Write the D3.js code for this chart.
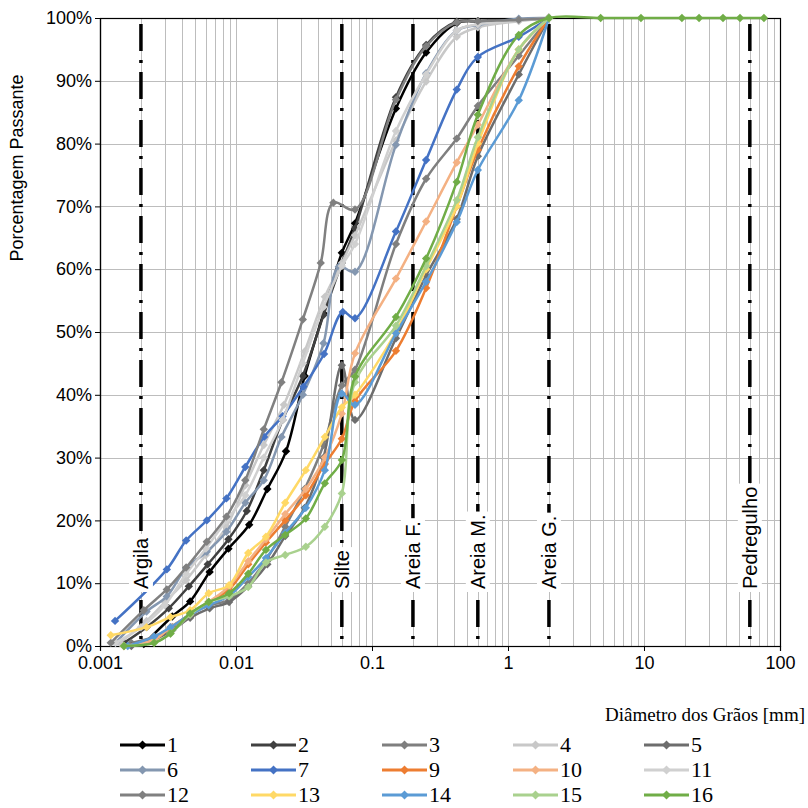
<!DOCTYPE html>
<html>
<head>
<meta charset="utf-8">
<script src="https://cdn.jsdelivr.net/npm/d3@7/dist/d3.min.js"></script>
<style>
    body { margin: 0; background: #ffffff; }
</style>
</head>
<body>
<div id="canvas"></div>
<script>
"use strict"

/* Curves: [diameter in mm, percent passing] */
let s1 = [[0.0021,0.3],[0.0034,4.7],[0.0046,7.1],[0.0064,11.8],[0.0088,15.5],[0.0125,19.3],[0.017,25],[0.0233,31],[0.032,43],[0.044,53],[0.06,62.6],[0.075,67.3],[0.15,85.6],[0.25,94.5],[0.42,99.2],[0.6,99.5],[1.2,99.7],[2,100]];
let s2 = [[0.0015,0.5],[0.0022,3],[0.0032,6],[0.0045,9.5],[0.0062,13],[0.0088,17],[0.012,21.5],[0.016,28],[0.022,36],[0.031,43],[0.044,52.7],[0.06,61],[0.075,66.5],[0.15,87.4],[0.25,95.7],[0.42,99.4],[0.6,99.5],[1.2,99.7],[2,100]];
let s3 = [[0.0017,0.5],[0.0025,1.5],[0.0034,3],[0.0046,5],[0.0064,6.5],[0.0089,7.3],[0.0123,10],[0.017,14],[0.023,19],[0.032,25],[0.044,32],[0.06,41.5],[0.075,44],[0.15,64],[0.25,74.4],[0.42,80.8],[0.6,86],[1.2,94],[2,100]];
let s4 = [[0.0014,0.5],[0.0022,4],[0.003,7],[0.0043,10.5],[0.006,14.5],[0.0085,19],[0.0117,25.6],[0.016,32],[0.0225,38.4],[0.032,46.9],[0.045,55.6],[0.06,61],[0.075,65.4],[0.15,80.5],[0.25,89.9],[0.42,97],[0.6,98.5],[1.2,99.5],[2,100]];
let s5 = [[0.0017,0],[0.0025,1],[0.0034,2.5],[0.0046,4.5],[0.0064,6],[0.0089,7],[0.0123,9.5],[0.017,13],[0.023,17.5],[0.032,22],[0.044,30],[0.06,44.7],[0.075,36],[0.15,49],[0.25,59],[0.42,68],[0.6,78],[1.2,91],[2,100]];
let s6 = [[0.0013,0.5],[0.0022,5.5],[0.0031,7.9],[0.0043,12.4],[0.0061,15],[0.0085,18.2],[0.0117,22.8],[0.016,26.4],[0.0216,33.3],[0.031,40],[0.044,48.2],[0.057,60.4],[0.075,59.6],[0.15,79.8],[0.25,91.2],[0.42,98],[0.6,98.9],[1.2,99.9],[2,100]];
let s7 = [[0.00129,4],[0.0031,12.2],[0.0043,16.8],[0.0061,20],[0.0085,23.5],[0.0117,28.5],[0.0161,33.3],[0.022,36.6],[0.0313,41.3],[0.0444,46.5],[0.061,53.2],[0.075,52.2],[0.15,66],[0.25,77.4],[0.42,88.6],[0.6,93.8],[1.2,97],[2,100]];
let s9 = [[0.0015,0],[0.0025,1],[0.0033,3],[0.0046,5],[0.0063,7],[0.0089,9],[0.0123,13],[0.0166,16.5],[0.023,20],[0.0326,24],[0.045,29],[0.06,33],[0.075,39],[0.15,47],[0.25,57],[0.42,70],[0.6,79],[1.2,92.3],[2,100]];
let s10 = [[0.0015,0],[0.0025,1],[0.0033,3],[0.0046,5],[0.0063,7],[0.0089,9.5],[0.0123,13.5],[0.0166,17],[0.023,21],[0.0326,25],[0.045,30],[0.06,37],[0.075,46.6],[0.15,58.5],[0.25,67.6],[0.42,77],[0.6,83],[1.2,95],[2,100]];
let s11 = [[0.0013,0.5],[0.002,3],[0.003,6.5],[0.0043,11.5],[0.006,15.5],[0.0085,20],[0.0117,24],[0.016,30],[0.022,36],[0.031,45],[0.044,54],[0.06,60.5],[0.075,64],[0.15,82],[0.25,91],[0.42,98],[0.6,99],[1.2,99.6],[2,100]];
let s12 = [[0.0012,0.5],[0.0021,5.7],[0.0031,9],[0.0043,12.5],[0.0061,16.6],[0.0085,20.6],[0.0117,26.4],[0.016,34.5],[0.0216,42],[0.031,52],[0.042,61],[0.052,70.6],[0.075,69.5],[0.15,87],[0.25,95.5],[0.42,99.3],[0.6,99.5],[1.2,99.7],[2,100]];
let s13 = [[0.0012,1.7],[0.0022,3],[0.0033,4.6],[0.0046,5.7],[0.0063,8.4],[0.0089,9.7],[0.0123,14.8],[0.0166,17.4],[0.023,22.8],[0.0326,28],[0.045,33.3],[0.06,38],[0.075,40],[0.15,50],[0.25,60],[0.42,70],[0.6,80],[1.2,95],[2,100]];
let s14 = [[0.0016,0],[0.0025,1.5],[0.0033,3],[0.0046,5],[0.0063,6.5],[0.0089,8],[0.0123,11],[0.0166,14],[0.023,18],[0.0326,22],[0.045,28],[0.06,40.2],[0.075,38.4],[0.15,49.8],[0.25,58],[0.42,67.5],[0.6,75.8],[1.2,86.9],[2,100]];
let s15 = [[0.0015,0],[0.0025,0.5],[0.0033,2],[0.0046,5],[0.0063,7],[0.0089,7.9],[0.0123,9.4],[0.0166,13.3],[0.023,14.5],[0.0326,15.8],[0.045,19],[0.06,24.3],[0.075,42],[0.15,51],[0.25,60.5],[0.42,71],[0.6,81],[1.2,95],[2,100]];
let s16 = [[0.0015,0],[0.0025,0.5],[0.0033,2],[0.0046,5.2],[0.0063,7],[0.0089,8.4],[0.0123,11.5],[0.0166,15.3],[0.023,17.7],[0.0326,20.3],[0.045,25.9],[0.06,29.6],[0.075,42.9],[0.15,52.4],[0.25,61.7],[0.42,73.9],[0.6,84.6],[1.2,97.3],[2,100],[4.8,100],[9.5,100],[19,100],[25.4,100],[38.1,100],[50.8,100],[76.2,100]];

let seriesNames = ["1","2","3","4","5","6","7","9","10","11","12","13","14","15","16"];
let seriesData = [s1,s2,s3,s4,s5,s6,s7,s9,s10,s11,s12,s13,s14,s15,s16];
let seriesColors = ["#000000","#404040","#7f7f7f","#c8c8c8","#6d6d6d","#8497b0","#4472c4",
                    "#ed7d31","#f4b183","#d0d0d0","#808080","#ffd966","#5b9bd5","#a9d18e","#70ad47"];

/* Soil class boundaries */
let classNames = ["Argila","Silte","Areia F.","Areia M.","Areia G.","Pedregulho"];
let classLimits = [0.002, 0.06, 0.2, 0.6, 2, 60];

let xTicks = [0.001, 0.01, 0.1, 1, 10, 100];
let yTicks = [0,10,20,30,40,50,60,70,80,90,100];

/* Layout */
let svgWidth = 808;
let svgHeight = 808;
let margin = { top: 18, right: 28, bottom: 162, left: 100 };
let plotW = svgWidth - margin.left - margin.right;
let plotH = svgHeight - margin.top - margin.bottom;
let sansFont = "'Liberation Sans', Arial, sans-serif";
let serifFont = "'Liberation Serif', 'Times New Roman', serif";

let svg = d3.select("#canvas").append("svg")
    .attr("width", svgWidth)
    .attr("height", svgHeight)
    .style("font-family", sansFont);

svg.append("rect").attr("width", svgWidth).attr("height", svgHeight).attr("fill", "#ffffff");

let xScale = d3.scaleLog().domain([0.001, 100]).range([margin.left, margin.left + plotW]);
let yScale = d3.scaleLinear().domain([0, 100]).range([margin.top + plotH, margin.top]);

// gridlines (all log ticks 1..9 per decade)
let gridG = svg.append("g");
gridG.selectAll("line.vgrid")
    .data(xScale.ticks())
    .join("line")
    .attr("class", "vgrid")
    .attr("x1", function(d) { return Math.round(xScale(d)) + 0.5; })
    .attr("x2", function(d) { return Math.round(xScale(d)) + 0.5; })
    .attr("y1", margin.top)
    .attr("y2", margin.top + plotH)
    .attr("stroke", "#bdbdbd")
    .attr("stroke-width", 1);

gridG.selectAll("line.hgrid")
    .data(yTicks)
    .join("line")
    .attr("class", "hgrid")
    .attr("x1", margin.left)
    .attr("x2", margin.left + plotW)
    .attr("y1", function(d) { return Math.round(yScale(d)) + 0.5; })
    .attr("y2", function(d) { return Math.round(yScale(d)) + 0.5; })
    .attr("stroke", "#bdbdbd")
    .attr("stroke-width", 1);

// dash-dot boundary lines
svg.selectAll("line.limit")
    .data(classLimits)
    .join("line")
    .attr("class", "limit")
    .attr("x1", function(d) { return xScale(d); })
    .attr("x2", function(d) { return xScale(d); })
    .attr("y1", margin.top + 6)
    .attr("y2", margin.top + plotH)
    .attr("stroke", "#000000")
    .attr("stroke-width", 3.5)
    .attr("stroke-dasharray", "27,9,3,9");

// plot frame
svg.append("rect")
    .attr("x", margin.left + 0.5)
    .attr("y", margin.top + 0.5)
    .attr("width", plotW)
    .attr("height", plotH)
    .attr("fill", "none")
    .attr("stroke", "#000000")
    .attr("stroke-width", 1.2);

// axes
let xAxis = d3.axisBottom(xScale)
    .tickValues(xTicks)
    .tickSize(5)
    .tickPadding(5)
    .tickFormat(function(d) { return String(d); });
let xAxisG = svg.append("g")
    .attr("transform", "translate(0," + (margin.top + plotH) + ")")
    .call(xAxis);

let yAxis = d3.axisLeft(yScale)
    .tickValues(yTicks)
    .tickSize(5)
    .tickPadding(3)
    .tickFormat(function(d) { return d + "%"; });
let yAxisG = svg.append("g")
    .attr("transform", "translate(" + margin.left + ",0)")
    .call(yAxis);

[xAxisG, yAxisG].forEach(function(g) {
    g.select(".domain").attr("stroke", "#000000").attr("stroke-width", 1.2);
    g.selectAll(".tick line").attr("stroke", "#000000");
    g.selectAll(".tick text")
        .attr("fill", "#000000")
        .style("font-family", sansFont)
        .style("font-size", "18px");
});

// curves
let lineGen = d3.line()
    .x(function(d) { return xScale(d[0]); })
    .y(function(d) { return yScale(d[1]); })
    .curve(d3.curveCatmullRom.alpha(0.5));

function diamond(r) {
    return "M0," + (-r) + "L" + r + ",0L0," + r + "L" + (-r) + ",0Z";
}

for (let i = 0; i < seriesData.length; i++) {
    let g = svg.append("g");
    g.append("path")
        .attr("d", lineGen(seriesData[i]))
        .attr("fill", "none")
        .attr("stroke", seriesColors[i])
        .attr("stroke-width", 2.5)
        .attr("stroke-linejoin", "round");
    g.selectAll("path.mark")
        .data(seriesData[i])
        .join("path")
        .attr("class", "mark")
        .attr("d", diamond(4.2))
        .attr("transform", function(d) { return "translate(" + xScale(d[0]) + "," + yScale(d[1]) + ")"; })
        .attr("fill", seriesColors[i]);
}

// class labels with white boxes
for (let i = 0; i < classNames.length; i++) {
    let lg = svg.append("g")
        .attr("transform", "translate(" + xScale(classLimits[i]) + ",589) rotate(-90)");
    let box = lg.append("rect").attr("fill", "#ffffff");
    let t = lg.append("text")
        .attr("x", 0)
        .attr("y", 7)
        .style("font-size", "20px")
        .attr("fill", "#000000")
        .text(classNames[i]);
    let bb = t.node().getBBox();
    box.attr("x", bb.x - 3).attr("y", bb.y - 1)
        .attr("width", bb.width + 6).attr("height", bb.height + 2);
}

// axis titles
svg.append("text")
    .attr("transform", "translate(23,168) rotate(-90)")
    .attr("text-anchor", "middle")
    .style("font-size", "18px")
    .text("Porcentagem  Passante");

svg.append("text")
    .attr("x", 805)
    .attr("y", 721)
    .attr("text-anchor", "end")
    .style("font-family", serifFont)
    .style("font-size", "19px")
    .text("Diâmetro dos Grãos [mm]");

// legend
let legendX = 120;
let legendY = 745;
let colStep = 131;
let rowStep = 25;
for (let i = 0; i < seriesNames.length; i++) {
    let col = i % 5;
    let row = Math.floor(i / 5);
    let lx = legendX + col * colStep;
    let ly = legendY + row * rowStep;
    svg.append("line")
        .attr("x1", lx).attr("x2", lx + 45)
        .attr("y1", ly).attr("y2", ly)
        .attr("stroke", seriesColors[i])
        .attr("stroke-width", 3);
    svg.append("path")
        .attr("d", diamond(4.5))
        .attr("transform", "translate(" + (lx + 22.5) + "," + ly + ")")
        .attr("fill", seriesColors[i]);
    svg.append("text")
        .attr("x", lx + 47)
        .attr("y", ly + 7)
        .style("font-family", serifFont)
        .style("font-size", "22px")
        .text(seriesNames[i]);
}
</script>
</body>
</html>
